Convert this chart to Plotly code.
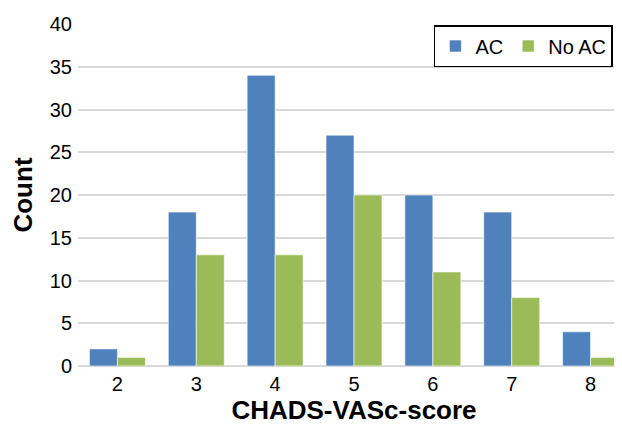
import plotly.graph_objects as go

categories = ["2", "3", "4", "5", "6", "7", "8"]
ac_values = [2, 18, 34, 27, 20, 18, 4]
no_ac_values = [1, 13, 13, 20, 11, 8, 1]
y_ticks = [0, 5, 10, 15, 20, 25, 30, 35, 40]

blue = "#4F81BD"
green = "#9BBB59"
edge = "rgba(255,255,255,0.6)"

fig = go.Figure()
fig.add_trace(go.Bar(x=categories, y=ac_values, name="AC",
                     marker=dict(color=blue, line=dict(color=edge, width=1))))
fig.add_trace(go.Bar(x=categories, y=no_ac_values, name="No AC",
                     marker=dict(color=green, line=dict(color=edge, width=1))))

font = "Liberation Sans, Arial, sans-serif"
fig.update_layout(
    width=622, height=428,
    margin=dict(l=70, r=0, t=16, b=70),
    plot_bgcolor="white", paper_bgcolor="white",
    barmode="group", bargap=0.29, bargroupgap=0,
    font=dict(family=font, size=20, color="#000000"),
    showlegend=True,
    legend=dict(orientation="h", x=0.969, y=0.997, xanchor="right", yanchor="top",
                bordercolor="#000000", borderwidth=1.5, bgcolor="white",
                font=dict(size=20), traceorder="normal", itemwidth=30),
    xaxis=dict(type="category", range=[-0.5, 6.5], showgrid=False, ticks="",
               title=dict(text="<b>CHADS-VASc-score</b>", font=dict(size=26), standoff=6),
               tickfont=dict(size=20), showline=False, ticklabelstandoff=4),
    yaxis=dict(range=[0, 40], tickvals=y_ticks, showgrid=True, gridcolor="#D9D9D9",
               gridwidth=1.5, zeroline=True, zerolinecolor="#D9D9D9", zerolinewidth=1.5,
               ticks="", title=dict(text="<b>Count</b>", font=dict(size=26), standoff=10),
               tickfont=dict(size=20), ticklabelstandoff=5),
)

fig.write_html("out.html")
